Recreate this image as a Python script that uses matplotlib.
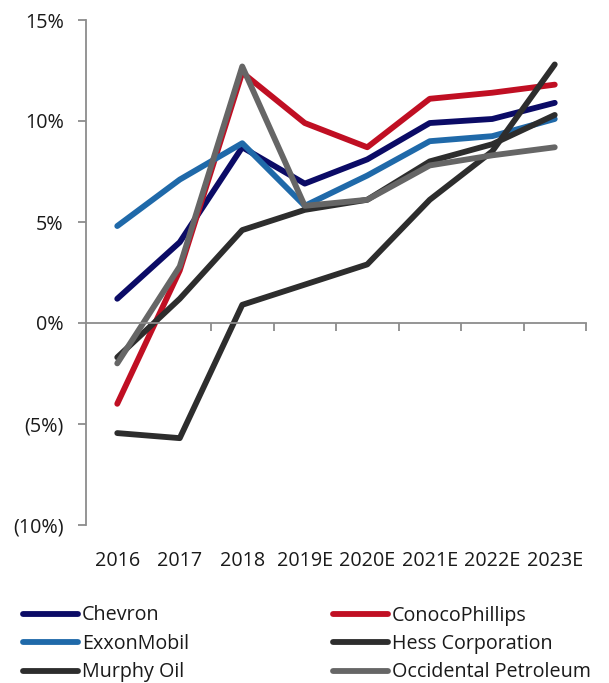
import matplotlib
matplotlib.use("Agg")
import matplotlib.pyplot as plt
from matplotlib.ticker import FixedLocator, FuncFormatter

plt.rcParams['font.family'] = ['Open Sans', 'DejaVu Sans']

years = ["2016", "2017", "2018", "2019E", "2020E", "2021E", "2022E", "2023E"]
chevron = [1.2, 4.0, 8.7, 6.9, 8.1, 9.9, 10.1, 10.9]
conoco = [-4.0, 2.6, 12.4, 9.9, 8.7, 11.1, 11.4, 11.8]
exxon = [4.8, 7.1, 8.9, 5.8, 7.3, 9.0, 9.25, 10.1]
hess = [-5.45, -5.7, 0.9, 1.9, 2.9, 6.1, 8.5, 12.8]
murphy = [-1.7, 1.2, 4.6, 5.6, 6.1, 8.0, 8.85, 10.3]
occidental = [-2.0, 2.8, 12.7, 5.8, 6.1, 7.8, 8.3, 8.7]
yticks = [-10, -5, 0, 5, 10, 15]

series = [
    ("Chevron", chevron, "#0b0b66"),
    ("ConocoPhillips", conoco, "#c00f23"),
    ("ExxonMobil", exxon, "#1f69a9"),
    ("Hess Corporation", hess, "#2d2d2d"),
    ("Murphy Oil", murphy, "#2d2d2d"),
    ("Occidental Petroleum", occidental, "#666666"),
]

FS = 14.2
fig = plt.figure(figsize=(6.09, 6.83), dpi=100)
ax = fig.add_axes([86/609, 1-525/683, (586-86)/609, (525-20)/683])

x = list(range(len(years)))
handles = {}
for name, vals, col in series:
    ln, = ax.plot(x, vals, color=col, lw=4.2, solid_capstyle='round',
                  solid_joinstyle='round', label=name)
    handles[name] = ln

ax.set_xlim(-0.5, len(years) - 0.5)
ax.set_ylim(-10, 15)

axis_col = "#8c8c8c"
for s in ['top', 'right']:
    ax.spines[s].set_visible(False)
ax.spines['left'].set_color(axis_col)
ax.spines['left'].set_linewidth(1.3)
ax.spines['bottom'].set_position(('data', 0))
ax.spines['bottom'].set_color(axis_col)
ax.spines['bottom'].set_linewidth(1.3)

ax.yaxis.set_major_locator(FixedLocator(yticks))
def fmt(v, pos):
    v = int(round(v))
    return f"({abs(v)}%)" if v < 0 else f"{v}%"
ax.yaxis.set_major_formatter(FuncFormatter(fmt))
ax.tick_params(axis='y', direction='out', length=6, width=1.3, color=axis_col,
               labelsize=FS, pad=10, labelcolor='#1a1a1a')

ax.xaxis.set_major_locator(FixedLocator([i + 0.5 for i in x]))
ax.tick_params(axis='x', direction='out', length=6, width=1.3, color=axis_col,
               labelbottom=False)

ax2 = ax.twiny()
ax2.set_xlim(ax.get_xlim())
ax2.xaxis.set_ticks_position('bottom')
ax2.xaxis.set_label_position('bottom')
for s in ax2.spines.values():
    s.set_visible(False)
ax2.set_xticks(x)
ax2.set_xticklabels(years)
ax2.tick_params(axis='x', length=0, pad=19, labelsize=FS, labelcolor='#1a1a1a')

col1 = [handles["Chevron"], handles["ExxonMobil"], handles["Murphy Oil"]]
col2 = [handles["ConocoPhillips"], handles["Hess Corporation"], handles["Occidental Petroleum"]]
common = dict(frameon=False, fontsize=FS, handlelength=2.8, handletextpad=0.2,
              labelspacing=0.43, borderaxespad=0, borderpad=0, loc='upper left')
l1 = fig.legend(col1, [h.get_label() for h in col1],
                bbox_to_anchor=(23/609, 1-605.5/683), **common)
l2 = fig.legend(col2, [h.get_label() for h in col2],
                bbox_to_anchor=(333/609, 1-605.5/683), **common)
for lg in (l1, l2):
    for t in lg.get_texts():
        t.set_color('#1a1a1a')

fig.savefig("out.png", dpi=100)
